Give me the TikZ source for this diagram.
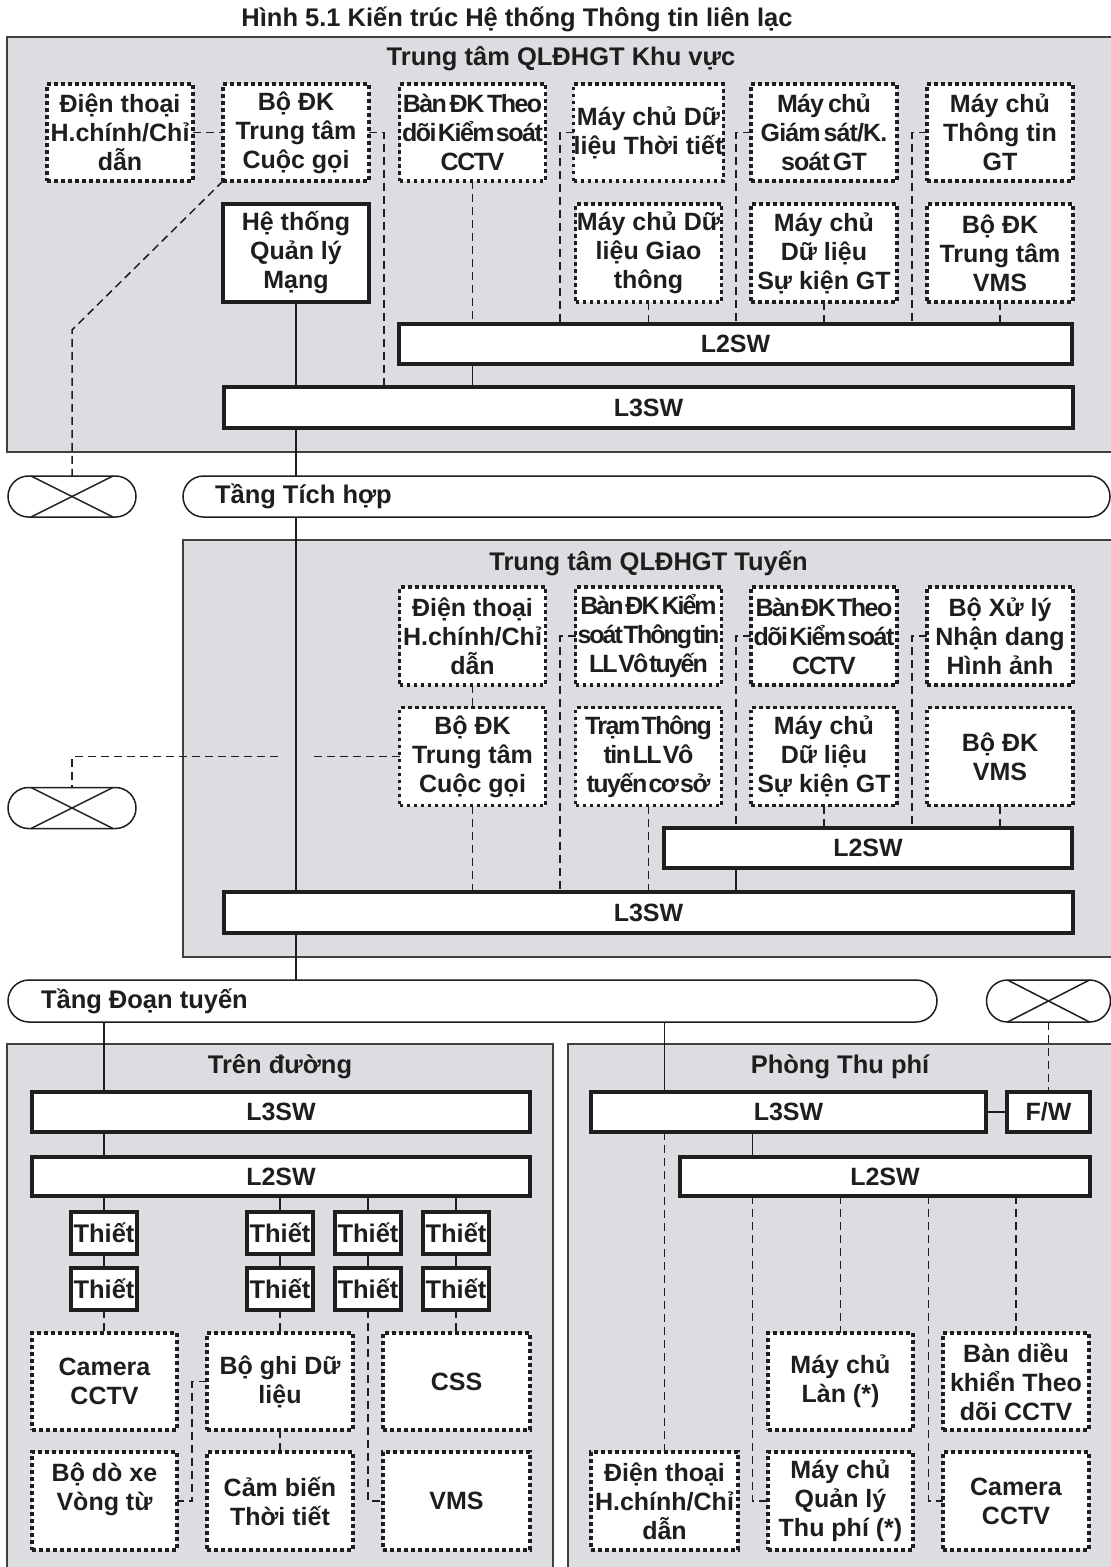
\documentclass[tikz,border=0pt]{standalone}
\usepackage{fontspec}
\setmainfont{Liberation Sans}
\newfontfamily\condf[LetterSpace=-6.0, WordSpace=0.5]{Liberation Sans Bold}
\newfontfamily\condg[LetterSpace=-8.0, WordSpace=0.4]{Liberation Sans Bold}
\newfontfamily\condh[LetterSpace=-3.5, WordSpace=0.7]{Liberation Sans Bold}
\usetikzlibrary{shapes.misc,calc}
\definecolor{bgray}{RGB}{220,221,224}
\definecolor{ink}{RGB}{30,30,30}
\begin{document}
\begin{tikzpicture}[x=1pt,y=-1pt,
  graybox/.style={draw=ink!85, line width=1.6pt, fill=bgray, inner sep=0pt, outer sep=0pt, anchor=north west},
  boxtxt/.style={font=\fontsize{25}{29}\selectfont\bfseries, align=center, inner sep=0pt, outer sep=0pt, text=ink},
  dotbox/.style={boxtxt, draw=ink, fill=white, line width=3.6pt, dash pattern=on 3.6pt off 3.4pt},
  swbox/.style={boxtxt, draw=ink, fill=white, line width=4pt},
  thietbox/.style={swbox, font=\fontsize{25.5}{29}\selectfont\bfseries, minimum width=66, minimum height=42},
  oval/.style={draw=ink, line width=1.5pt, fill=white, rounded rectangle, inner sep=0pt, outer sep=0pt},
  conn/.style={draw=ink, line width=1.5pt},
  dconn/.style={conn, dash pattern=on 8pt off 5pt},
  lbl/.style={font=\fontsize{25.5}{30}\selectfont\bfseries, text=ink, inner sep=0pt, outer sep=0pt},
]
\useasboundingbox (0,0) rectangle (1111,1567);
\fill[white] (0,0) rectangle (1111,1567);
\clip (0,0) rectangle (1111,1567);

% ---------- title ----------
\node[lbl] (title) at (517,19) {Hình 5.1 Kiến trúc Hệ thống Thông tin liên lạc};

% ---------- zone A ----------
\node[graybox, minimum width=1113, minimum height=415] (zoneA) at (7,37) {};
\node[lbl] (labA) at (561,59) {Trung tâm QLĐHGT Khu vực};

\tikzset{rowA/.style={dotbox, minimum width=146, minimum height=97}}
\node[rowA] (a1) at (120,132.5) {Điện thoại\\H.chính/Chỉ\\dẫn};
\node[rowA] (a2) at (296,132.5) {Bộ ĐK\\Trung tâm\\Cuộc gọi};
\node[rowA] (a3) at (472.5,132.5) {\condf Bàn ĐK Theo\\\condf dõi Kiểm soát\\\condf CCTV};
\node[rowA] (a4) at (648.5,132.5) {Máy chủ Dữ\\liệu Thời tiết};
\node[rowA] (a5) at (824,132.5) {\condh Máy chủ\\\condh Giám sát/K.\\\condh soát GT};
\node[rowA] (a6) at (1000,132.5) {Máy chủ\\Thông tin\\GT};

\node[swbox, line width=3.5pt, minimum width=146, minimum height=98] (nms) at (296,253) {Hệ thống\\Quản lý\\Mạng};
\node[dotbox, minimum width=146, minimum height=98] (b4) at (648.5,253) {Máy chủ Dữ\\liệu Giao\\thông};
\node[dotbox, minimum width=146, minimum height=98] (b5) at (824,253) {Máy chủ\\Dữ liệu\\Sự kiện GT};
\node[dotbox, minimum width=146, minimum height=98] (b6) at (1000,253) {Bộ ĐK\\Trung tâm\\VMS};

\node[swbox, minimum width=673, minimum height=40] (l2a) at (735.5,344) {L2SW};
\node[swbox, minimum width=849, minimum height=41] (l3a) at (648.5,407.5) {L3SW};

% ---------- ovals row 1 ----------
\node[oval, minimum width=128, minimum height=41] (x1) at (72,496.5) {};
\node[oval, minimum width=927, minimum height=41] (tth) at (646.5,496.5) {};
\node[lbl, anchor=west] (tthlbl) at ($(tth.west)+(32,0)$) {Tầng Tích hợp};

% ---------- zone B ----------
\node[graybox, minimum width=937, minimum height=417] (zoneB) at (183,540) {};
\node[lbl] (labB) at (648.5,563) {Trung tâm QLĐHGT Tuyến};

\tikzset{rowB/.style={dotbox, minimum width=146, minimum height=98}}
\node[rowB] (m3) at (472.5,636) {Điện thoại\\H.chính/Chỉ\\dẫn};
\node[rowB] (m4) at (648.5,636) {\condg Bàn ĐK Kiểm\\\condg soát Thông tin\\\condg LL Vô tuyến};
\node[rowB] (m5) at (824,636) {\condf Bàn ĐK Theo\\\condf dõi Kiểm soát\\\condf CCTV};
\node[rowB] (m6) at (1000,636) {Bộ Xử lý\\Nhận dang\\Hình ảnh};
\node[rowB] (n3) at (472.5,756.5) {Bộ ĐK\\Trung tâm\\Cuộc gọi};
\node[rowB] (n4) at (648.5,756.5) {\condf Trạm Thông\\\condf tin LL Vô\\\condf tuyến cơ sở};
\node[rowB] (n5) at (824,756.5) {Máy chủ\\Dữ liệu\\Sự kiện GT};
\node[rowB] (n6) at (1000,756.5) {Bộ ĐK\\VMS};

\node[swbox, minimum width=408, minimum height=40] (l2b) at (868,848) {L2SW};
\node[swbox, minimum width=849, minimum height=41] (l3b) at (648.5,912.5) {L3SW};

\node[oval, minimum width=128, minimum height=41] (x2) at (72,808) {};

% ---------- ovals row 2 ----------
\node[oval, minimum width=929, minimum height=42] (tdt) at (472.5,1001) {};
\node[lbl, anchor=west] (tdtlbl) at ($(tdt.west)+(33,0)$) {Tầng Đoạn tuyến};
\node[oval, minimum width=124, minimum height=42] (x3) at (1048.5,1001) {};

% ---------- zone C1 ----------
\node[graybox, minimum width=546, minimum height=540] (zoneC) at (7,1044) {};
\node[lbl] (labC) at (280,1067) {Trên đường};
\node[swbox, minimum width=498, minimum height=40] (l3c) at (281,1112) {L3SW};
\node[swbox, minimum width=498, minimum height=39] (l2c) at (281,1176.5) {L2SW};
\node[thietbox] (t11) at (104,1233) {Thiết};
\node[thietbox] (t12) at (104,1289) {Thiết};
\node[thietbox] (t21) at (280,1233) {Thiết};
\node[thietbox] (t22) at (280,1289) {Thiết};
\node[thietbox] (t31) at (368,1233) {Thiết};
\node[thietbox] (t32) at (368,1289) {Thiết};
\node[thietbox] (t41) at (456,1233) {Thiết};
\node[thietbox] (t42) at (456,1289) {Thiết};
\node[dotbox, minimum width=145, minimum height=97] (d1) at (104.5,1381.5) {Camera\\CCTV};
\node[dotbox, minimum width=146, minimum height=97] (d2) at (280,1381.5) {Bộ ghi Dữ\\liệu};
\node[dotbox, minimum width=147, minimum height=97] (d3) at (456.5,1381.5) {CSS};
\node[dotbox, minimum width=145, minimum height=98] (e1) at (104.5,1501) {Bộ dò xe\\Vòng từ\\\mbox{}};
\node[dotbox, minimum width=146, minimum height=98] (e2) at (280,1501) {Cảm biến\\Thời tiết};
\node[dotbox, minimum width=147, minimum height=98] (e3) at (456.5,1501) {VMS};

% ---------- zone C2 ----------
\node[graybox, minimum width=552, minimum height=540] (zoneD) at (568,1044) {};
\node[lbl] (labD) at (840,1067) {Phòng Thu phí};
\node[swbox, minimum width=395, minimum height=40] (l3r) at (788.5,1112) {L3SW};
\node[swbox, minimum width=83, minimum height=40] (fw) at (1048.5,1112) {F/W};
\node[swbox, minimum width=410, minimum height=39] (l2r) at (885,1176.5) {L2SW};
\node[dotbox, minimum width=145, minimum height=97] (p1) at (840.5,1381.5) {Máy chủ\\Làn (*)};
\node[dotbox, minimum width=146, minimum height=97] (p2) at (1016,1381.5) {Bàn diều\\khiển Theo\\dõi CCTV};
\node[dotbox, minimum width=147, minimum height=98] (q1) at (664.5,1501) {Điện thoại\\H.chính/Chỉ\\dẫn};
\node[dotbox, minimum width=145, minimum height=98] (q2) at (840.5,1501) {Máy chủ\\Quản lý\\Thu phí (*)};
\node[dotbox, minimum width=146, minimum height=98] (q3) at (1016,1501) {Camera\\CCTV};

% ---------- X marks in ovals ----------
\foreach \o/\h in {x1/20.5,x2/20.5,x3/21}{
  \draw[conn] ($(\o.center)+(-41,-\h)$) -- ($(\o.center)+(41,\h)$);
  \draw[conn] ($(\o.center)+(-41,\h)$) -- ($(\o.center)+(41,-\h)$);
}

% ---------- connectors zone A ----------
\coordinate (xa2) at (384,0);
\coordinate (xa4) at (560,0);
\coordinate (xa5) at (736,0);
\coordinate (xa6) at (912,0);
\coordinate (diag) at (72,330);
\draw[dconn] (a1.east) -- (a2.west);
\draw[dconn] (a2.east) -| (xa2 |- l3a.north);
\draw[dconn] (a2.south west) -- (diag) -- (x1.north);
\draw[dconn] (a3.south) -- (a3.south |- l2a.north);
\draw[conn] (a3.south |- l2a.south) -- (a3.south |- l3a.north);
\draw[dconn] (a4.west) -| (xa4 |- l2a.north);
\draw[dconn] (a5.west) -| (xa5 |- l2a.north);
\draw[dconn] (a6.west) -| (xa6 |- l2a.north);
\draw[dconn] (b4.south) -- (b4.south |- l2a.north);
\draw[dconn] (b5.south) -- (b5.south |- l2a.north);
\draw[dconn] (b6.south) -- (b6.south |- l2a.north);
\draw[conn] (nms.south) -- (nms.south |- l3a.north);

% ---------- main trunk ----------
\draw[conn] (nms.south |- l3a.south) -- (nms.south |- tth.north);
\draw[conn] (nms.south |- tth.south) -- (nms.south |- l3b.north);
\draw[conn] (nms.south |- l3b.south) -- (nms.south |- tdt.north);

% ---------- connectors zone B ----------
\coordinate (gapR) at (312,0);
\coordinate (gapL) at (278,0);
\draw[dconn] (m3.south) -- (n3.north);
\draw[dconn] (n3.south) -- (n3.south |- l3b.north);
\draw[dconn] (n3.west) -- (gapR |- n3.west);
\draw[dconn] (gapL |- n3.west) -| (x2.north);
\draw[dconn] (m4.west) -| (xa4 |- l3b.north);
\draw[dconn] (m5.west) -| (xa5 |- l2b.north);
\draw[dconn] (m6.west) -| (xa6 |- l2b.north);
\draw[dconn] (n4.south) -- (n4.south |- l3b.north);
\draw[dconn] (n5.south) -- (n5.south |- l2b.north);
\draw[dconn] (n6.south) -- (n6.south |- l2b.north);
\draw[conn] (xa5 |- l2b.south) -- (xa5 |- l3b.north);

% ---------- connectors zone C1 ----------
\coordinate (xc1) at (104,0);
\coordinate (bk) at (192,0);
\draw[conn] (xc1 |- tdt.south) -- (xc1 |- l3c.north);
\draw[conn] (xc1 |- l3c.south) -- (xc1 |- l2c.north);
\foreach \c in {1,2,3,4}{
  \draw[conn] (t\c1.north |- l2c.south) -- (t\c1.north);
  \draw[conn] (t\c1.south) -- (t\c2.north);
}
\draw[dconn] (t12.south) -- (t12.south |- d1.north);
\draw[dconn] (t22.south) -- (d2.north);
\draw[dconn] (t42.south) -- (t42.south |- d3.north);
\draw[dconn] (t32.south) |- (e3.west);
\draw[dconn] (d2.south) -- (e2.north);
\draw[dconn] (d2.west) -| (bk |- e1.east) -- (e1.east);

% ---------- connectors zone C2 ----------
\coordinate (xr1) at (664.5,0);
\coordinate (xr2) at (752.3,0);
\coordinate (xr3) at (928.6,0);
\draw[conn] (xr1 |- tdt.south) -- (xr1 |- l3r.north);
\draw[dconn] (xr1 |- l3r.south) -- (q1.north);
\draw[conn] (l3r.east) -- (fw.west);
\draw[dconn] (x3.south) -- (fw.north);
\draw[conn] (xr2 |- l3r.south) -- (xr2 |- l2r.north);
\draw[dconn] (xr2 |- l2r.south) |- (q2.west);
\draw[dconn] (p1.north |- l2r.south) -- (p1.north);
\draw[dconn] (xr3 |- l2r.south) |- (q3.west);
\draw[dconn] (p2.north |- l2r.south) -- (p2.north);
\end{tikzpicture}
\end{document}
